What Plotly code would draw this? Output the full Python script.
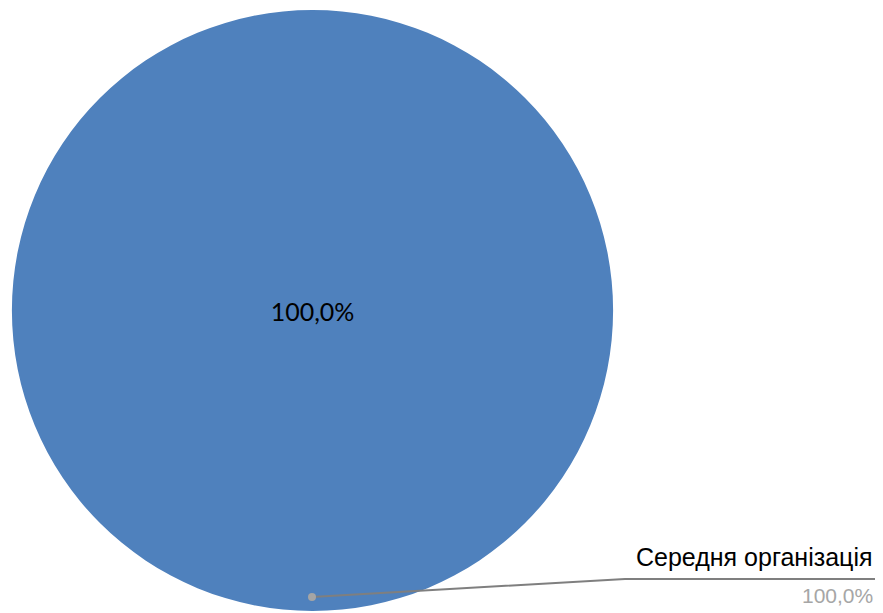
import plotly.graph_objects as go

categories = ["Середня організація"]
values = [100.0]
value_labels = ["100,0%"]

W, H = 883, 613

def px(x):
    return x / W

def py(y):
    return 1 - y / H

fig = go.Figure(go.Pie(
    labels=categories,
    values=values,
    text=value_labels,
    texttemplate="%{text}",
    textposition="inside",
    insidetextfont=dict(family="Lato, Liberation Sans, sans-serif", size=25, color="#000000"),
    marker=dict(colors=["#4F81BD"], line=dict(width=0)),
    sort=False,
    showlegend=False,
    hoverinfo="label+percent",
    domain=dict(x=[px(11), px(614)], y=[py(611), py(10)]),
))

# leader line
fig.add_shape(type="path", xref="paper", yref="paper",
              path=f"M {px(312)},{py(597)} L {px(625)},{py(579)} L {px(875)},{py(579)}",
              line=dict(color="#7F7F7F", width=2))
fig.add_shape(type="circle", xref="paper", yref="paper",
              x0=px(308), x1=px(316), y0=py(601), y1=py(593),
              fillcolor="#A5A5A5", line=dict(width=0))

fig.add_annotation(x=px(875), y=py(557), xref="paper", yref="paper",
                   text=categories[0], showarrow=False, xanchor="right", yanchor="middle",
                   font=dict(family="Liberation Sans, Arial, sans-serif", size=25, color="#000000"))
fig.add_annotation(x=px(875), y=py(595), xref="paper", yref="paper",
                   text=value_labels[0], showarrow=False, xanchor="right", yanchor="middle",
                   font=dict(family="Liberation Sans, Arial, sans-serif", size=21, color="#A6A6A6"))

fig.update_layout(width=W, height=H, margin=dict(l=0, r=0, t=0, b=0),
                  paper_bgcolor="white", plot_bgcolor="white")

fig.write_html("out.html", config={"displayModeBar": False},
               post_script="document.body.style.margin='0';document.body.style.overflow='hidden';")
